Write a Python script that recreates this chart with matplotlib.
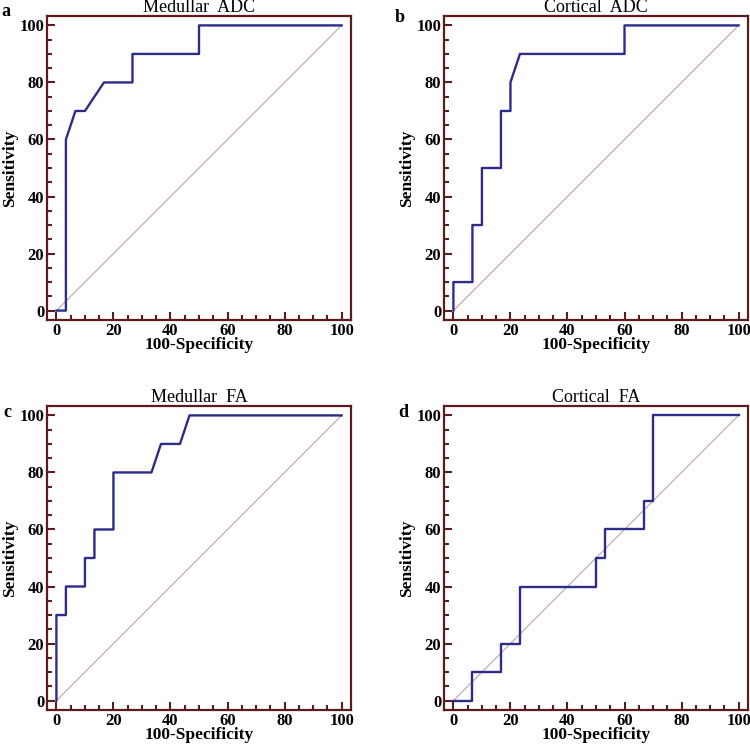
import matplotlib
matplotlib.use("Agg")
import matplotlib.pyplot as plt
from matplotlib.ticker import MultipleLocator

# === ROC data (100-Specificity, Sensitivity) ===
med_adc_x = [0, 3.33, 3.33, 6.67, 10, 16.67, 26.67, 26.67, 50, 50, 100]
med_adc_y = [0, 0, 60, 70, 70, 80, 80, 90, 90, 100, 100]

cor_adc_x = [0, 0, 6.67, 6.67, 10, 10, 16.67, 16.67, 20, 20, 23.33, 60, 60, 100]
cor_adc_y = [0, 10, 10, 30, 30, 50, 50, 70, 70, 80, 90, 90, 100, 100]

med_fa_x = [0, 0, 3.33, 3.33, 10, 10, 13.33, 13.33, 20, 20, 33.33, 36.67, 43.33, 46.67, 100]
med_fa_y = [0, 30, 30, 40, 40, 50, 50, 60, 60, 80, 80, 90, 90, 100, 100]

cor_fa_x = [0, 6.67, 6.67, 16.67, 16.67, 23.33, 23.33, 50, 50, 53.33, 53.33, 66.67, 66.67, 70, 70, 100]
cor_fa_y = [0, 0, 10, 10, 20, 20, 40, 40, 50, 50, 60, 60, 70, 70, 100, 100]

titles = ["Medullar  ADC", "Cortical  ADC", "Medullar  FA", "Cortical  FA"]
letters = ["a", "b", "c", "d"]
curves = [(med_adc_x, med_adc_y), (cor_adc_x, cor_adc_y),
          (med_fa_x, med_fa_y), (cor_fa_x, cor_fa_y)]

frame_col = "#5a1c1c"
roc_col = "#2c2c8a"
diag_col = "#c8a9a9"

plt.rcParams["font.family"] = "Liberation Serif"

fig = plt.figure(figsize=(7.5, 7.45), dpi=100)
W, H = 750, 745
# axes frames in pixels: left, top
frames = [(47, 16), (444, 16), (47, 406), (444, 406)]
letter_pos = [(1, 3), (395, 9), (3, 404), (398, 404)]

for i, (cx, cy) in enumerate(curves):
    left, top = frames[i]
    ax = fig.add_axes([left / W, 1 - (top + 304) / H, 304 / W, 304 / H])
    ax.plot([0, 100], [0, 100], color=diag_col, linewidth=0.9)
    ax.plot(cx, cy, color=roc_col, linewidth=1.7)
    ax.set_xlim(-3.3, 103.3)
    ax.set_ylim(-3.3, 103.3)
    ax.xaxis.set_major_locator(MultipleLocator(20))
    ax.xaxis.set_minor_locator(MultipleLocator(5))
    ax.yaxis.set_major_locator(MultipleLocator(20))
    ax.yaxis.set_minor_locator(MultipleLocator(5))
    ax.tick_params(which="both", direction="in", color=frame_col,
                   top=False, right=False, width=1.5)
    ax.tick_params(which="major", length=6, labelsize=12, pad=2)
    ax.tick_params(which="minor", length=3.5)
    for lab in ax.get_xticklabels() + ax.get_yticklabels():
        lab.set_fontweight("bold")
    for sp in ax.spines.values():
        sp.set_color(frame_col)
        sp.set_linewidth(1.6)
    ax.set_xlabel("100-Specificity", fontsize=12.5, fontweight="bold", labelpad=-1)
    ax.set_ylabel("Sensitivity", fontsize=12.5, fontweight="bold", labelpad=1)
    ax.set_title(titles[i], fontsize=13, pad=3)
    lx, ly = letter_pos[i]
    fig.text(lx / W, 1 - ly / H, letters[i], fontsize=13, fontweight="bold",
             va="top", ha="left")

fig.savefig("out.png", dpi=100)
